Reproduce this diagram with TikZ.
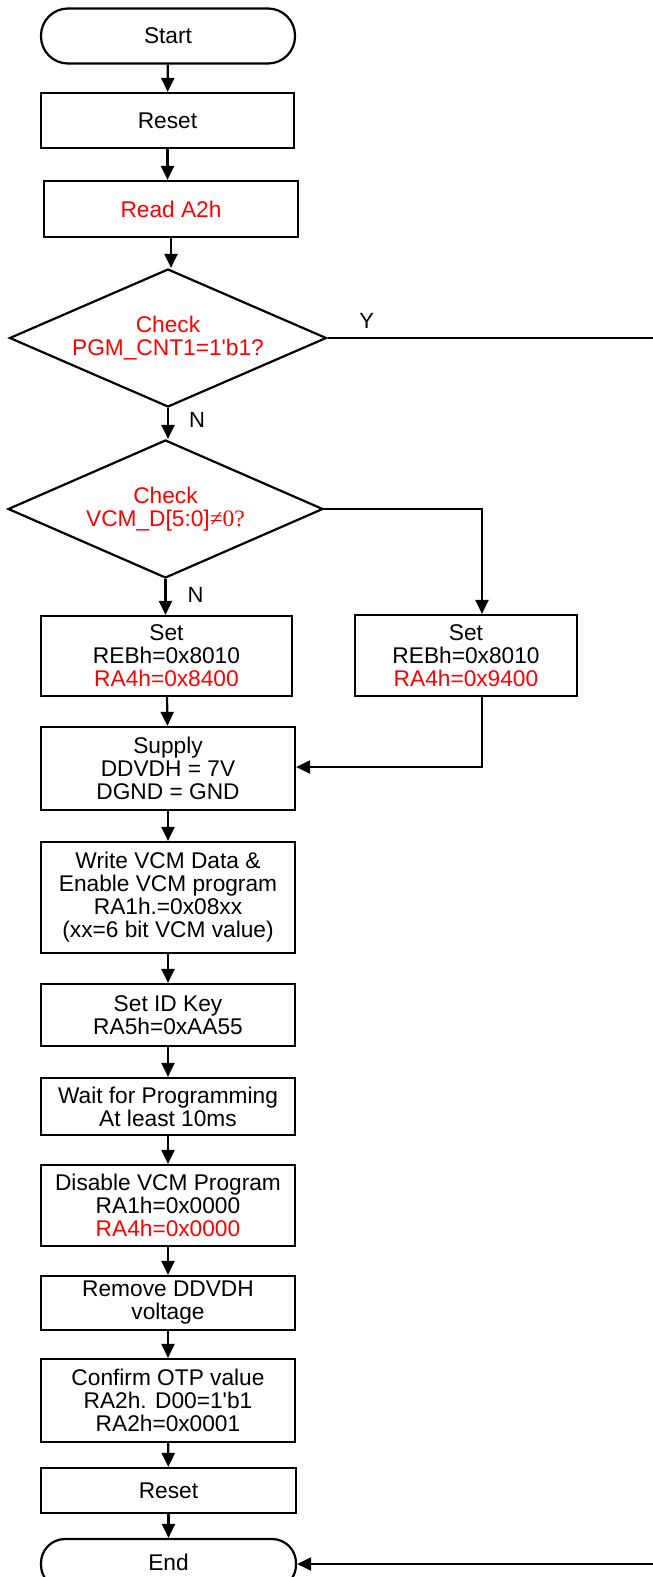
\documentclass[tikz,border=0pt]{standalone}
\usepackage{fontspec}
\setmainfont{Liberation Sans}
\newfontfamily\serifx{Liberation Serif}
\usetikzlibrary{arrows.meta,shapes.geometric}
\begin{document}
\begin{tikzpicture}[x=1pt,y=-1pt,
  every node/.style={font=\fontsize{22.7}{23}\selectfont, align=center, inner sep=0pt},
  box/.style={draw, line width=2.2pt, rectangle},
  term/.style={draw, line width=2.2pt, rectangle, rounded corners=#1},
  decide/.style={draw, line width=2.2pt, diamond, aspect=2.3, text=red},
  conn/.style={line width=2.2pt, -{Triangle[width=13pt,length=14pt]}},
  plain/.style={line width=2.2pt},
  lbl/.style={font=\fontsize{22}{23}\selectfont}]
\useasboundingbox (0,0) rectangle (653,1577);
\clip (0,0) rectangle (653,1577);
\node[term=27pt, minimum width=254pt, minimum height=55pt] (start) at (168,36) {Start};
\node[box, minimum width=253pt, minimum height=55pt] (reset1) at (167.5,120.5) {Reset};
\node[box, minimum width=254pt, minimum height=56pt, text=red] (read) at (171,209) {Read A2h};
\node[decide, minimum width=317pt, minimum height=138pt] (d1) at (168,338) {Check\\PGM\_CNT1=1\textquotesingle b1?};
\node[decide, minimum width=315pt, minimum height=138pt] (d2) at (165.5,509) {Check\\VCM\_D[5:0]{\serifx\fontsize{23.5}{23}\selectfont ≠0?}};
\node[box, minimum width=251pt, minimum height=80pt] (setL) at (166.5,656) {Set\\REBh=0x8010\\\textcolor{red}{RA4h=0x8400}};
\node[box, minimum width=222pt, minimum height=81pt] (setR) at (466,655.5) {Set\\REBh=0x8010\\\textcolor{red}{RA4h=0x9400}};
\node[box, minimum width=254pt, minimum height=83pt] (supply) at (168,768.5) {Supply\\DDVDH = 7V\\DGND = GND};
\node[box, minimum width=254pt, minimum height=111pt] (write) at (168,897.5) {Write VCM Data \&\\Enable VCM program\\RA1h.=0x08xx\\(xx=6 bit VCM value)};
\node[box, minimum width=254pt, minimum height=62pt] (setid) at (168,1015) {Set ID Key\\RA5h=0xAA55};
\node[box, minimum width=254pt, minimum height=57pt] (wait) at (168,1106.5) {Wait for Programming\\At least 10ms};
\node[box, minimum width=254pt, minimum height=81pt] (disable) at (168,1205.5) {Disable VCM Program\\RA1h=0x0000\\\textcolor{red}{RA4h=0x0000}};
\node[box, minimum width=254pt, minimum height=54pt] (remove) at (168,1303) {Remove DDVDH\\voltage};
\node[box, minimum width=254pt, minimum height=83pt] (confirm) at (168,1400.5) {Confirm OTP value\\RA2h. D00=1\textquotesingle b1\\RA2h=0x0001};
\node[box, minimum width=255pt, minimum height=45pt] (reset2) at (168.5,1490.5) {Reset};
\node[term=24pt, minimum width=255pt, minimum height=50pt] (end) at (168.5,1564) {\raisebox{4pt}{End}};
\coordinate (yout) at (653,338);
\coordinate (endin) at (653,1564);
\draw[conn] (start) -- (reset1);
\draw[conn] (reset1.south) -- (reset1.south |- read.north);
\draw[conn] (read.south) -- (read.south |- d1.north);
\draw[conn] (d1.south) -- (d1.south |- d2.north) node[pos=0.4, right=20pt, lbl] {N};
\draw[plain] (d1.east) -- (yout) node[pos=0.12, above=8pt, lbl] {Y};
\draw[conn] (d2.south) -- (d2.south |- setL.north) node[pos=0.45, right=21pt, lbl] {N};
\draw[conn] (d2.east) -| ([xshift=16pt]setR.north);
\draw[conn] ([xshift=16pt]setR.south) |- ([yshift=1.5pt]supply.east);
\draw[conn] (setL) -- (supply);
\draw[conn] (supply) -- (write);
\draw[conn] (write) -- (setid);
\draw[conn] (setid) -- (wait);
\draw[conn] (wait) -- (disable);
\draw[conn] (disable) -- (remove);
\draw[conn] (remove) -- (confirm);
\draw[conn] (confirm) -- (reset2);
\draw[conn] (reset2) -- (end);
\draw[conn] (endin) -- (end.east);
\end{tikzpicture}
\end{document}
